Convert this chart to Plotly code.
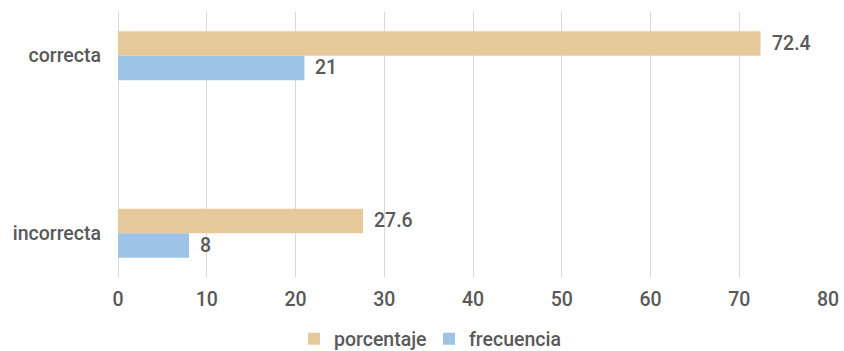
import plotly.graph_objects as go

# Respuestas: porcentaje y frecuencia por categoría
categorias = ["correcta", "incorrecta"]
porcentaje = [72.4, 27.6]
frecuencia = [21, 8]
ticks_x = [0, 10, 20, 30, 40, 50, 60, 70, 80]

COLOR_PORC = "#E6C99B"
COLOR_FREC = "#9DC3E6"
TEXTO = "#595959"
FUENTE = "Roboto"
TAM = 19.5

fig = go.Figure()
# frecuencia first so it sits below porcentaje within each group
fig.add_trace(go.Bar(
    y=categorias, x=frecuencia, name="frecuencia", orientation="h",
    marker=dict(color=COLOR_FREC, line=dict(width=0)), legendrank=2,
))
fig.add_trace(go.Bar(
    y=categorias, x=porcentaje, name="porcentaje", orientation="h",
    marker=dict(color=COLOR_PORC, line=dict(width=0)), legendrank=1,
))

# value labels to the right of each bar
n = len(categorias)
for serie, vals in (("porcentaje", porcentaje), ("frecuencia", frecuencia)):
    off = 0.069 if serie == "porcentaje" else -0.069
    for i, (cat, v) in enumerate(zip(categorias, vals)):
        idx = n - 1 - i
        fig.add_annotation(
            x=v, y=idx + off, xref="x", yref="y", text=f"{v:g}",
            showarrow=False, xanchor="left", xshift=9,
            font=dict(family=FUENTE, size=TAM, color=TEXTO, weight=500),
        )

fig.update_layout(
    width=844, height=351,
    margin=dict(l=118, r=16, t=12, b=74, autoexpand=False),
    paper_bgcolor="white", plot_bgcolor="white",
    barmode="group", bargap=0.724, bargroupgap=0,
    font=dict(family=FUENTE, size=TAM, color=TEXTO, weight=500),
    xaxis=dict(
        range=[0, 80], tickvals=ticks_x, showgrid=True, gridcolor="#D9D9D9",
        gridwidth=1, zeroline=True, zerolinecolor="#D9D9D9", zerolinewidth=1,
        showline=False, ticks="", ticklabelstandoff=8, automargin=False,
        tickfont=dict(family=FUENTE, size=TAM, color=TEXTO, weight=500),
    ),
    yaxis=dict(
        type="category", categoryorder="array",
        categoryarray=list(reversed(categorias)),
        range=[-0.247, 1.246], showgrid=False, zeroline=False,
        showline=False, ticks="", ticklabelstandoff=16, automargin=False,
        tickfont=dict(family=FUENTE, size=TAM, color=TEXTO, weight=500),
    ),
    legend=dict(
        orientation="h", x=0.438, xanchor="center",
        yref="container", y=12 / 351, yanchor="middle",
        font=dict(family=FUENTE, size=TAM, color=TEXTO, weight=500),
        itemwidth=30, traceorder="normal",
        entrywidth=90, entrywidthmode="pixels",
    ),
    showlegend=True,
)

fig.write_html("out.html")
